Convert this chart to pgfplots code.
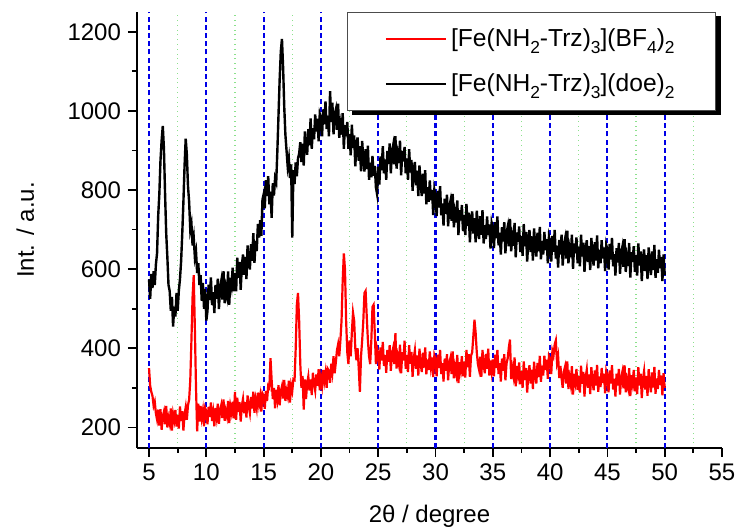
\documentclass[border=0pt]{standalone}
\usepackage{pgfplots}
\pgfplotsset{compat=1.18}
\usepackage{fontspec}
\setmainfont{Liberation Sans}
\definecolor{gridblue}{RGB}{0,0,230}
\definecolor{gridgreen}{RGB}{140,225,140}
\newcommand\sub[1]{\raisebox{-0.55ex}{\fontsize{8.7}{9}\selectfont #1}}
\begin{document}
\begin{tikzpicture}
\begin{axis}[
  name=ax,
  scale only axis, width=292.5pt, height=218pt,
  xmin=3.95, xmax=55, ymin=148, ymax=1250,
  axis x line*=bottom, axis y line*=left,
  axis line style={line width=0.9pt, black},
  tick align=outside,
  xtick={5,10,...,55}, minor xtick={7.5,12.5,...,52.5},
  ytick={200,400,...,1200}, minor ytick={300,500,...,1100},
  major tick length=4.5pt, minor tick length=2.5pt,
  every tick/.style={black, line width=0.9pt},
  xminorgrids=true,
  minor grid style={gridgreen, dotted, line width=0.6pt},
  extra x ticks={5,10,15,20,25,30,35,40,45,50}, extra x tick labels={},
  extra x tick style={grid=major, major tick length=0pt,
     major grid style={gridblue, dash pattern=on 2.5pt off 1.6pt, line width=1.05pt}},
  /pgf/number format/assume math mode=true,
  /pgf/number format/1000 sep={},
  ticklabel style={font=\fontsize{12}{14}\selectfont},
  xlabel={2θ / degree}, ylabel={Int. / a.u.},
  label style={font=\fontsize{12}{14}\selectfont},
  xlabel style={at={(axis description cs:0.5,-0.172)}, anchor=base},
  ylabel style={at={(axis description cs:-0.191,0.5)}, anchor=center},
  legend style={name=leg, at={(axis description cs:0.99,1.0)}, anchor=north east,
     draw=black!70, line width=0.5pt, fill=white,
     font=\fontsize{12.3}{14}\selectfont,
     inner xsep=18.5pt, inner ysep=6pt, row sep=8pt},
  legend cell align=left,
  legend image code/.code={\draw[#1] (0pt,0pt) -- (30pt,0pt);},
  reverse legend,
]
\addplot[black, line width=1.2pt] coordinates {
(5.0,574) (5.1,525) (5.2,588) (5.3,552) (5.4,595) (5.5,560) (5.6,612) (5.7,640) (5.8,735) (5.9,790)
(6.0,875) (6.1,925) (6.2,962) (6.3,905) (6.4,790) (6.5,690) (6.6,630) (6.7,560) (6.8,545) (6.9,495)
(7.0,530) (7.1,455) (7.2,505) (7.3,480) (7.4,540) (7.5,495) (7.6,545) (7.7,575) (7.8,620) (7.9,690)
(8.0,770) (8.1,860) (8.2,930) (8.3,890) (8.4,810) (8.5,770) (8.6,700) (8.7,715) (8.8,660) (8.9,680)
(9.0,630) (9.1,645) (9.2,590) (9.3,615) (9.4,560) (9.5,585) (9.6,520) (9.7,565) (9.8,500) (9.9,550)
(10.0,470) (10.1,494) (10.2,561) (10.3,522) (10.4,579) (10.5,509) (10.6,542) (10.7,489) (10.8,560) (10.9,525)
(11.0,576) (11.1,499) (11.2,553) (11.3,570) (11.4,523) (11.5,595) (11.6,514) (11.7,552) (11.8,534) (11.9,594)
(12.0,510) (12.1,578) (12.2,559) (12.3,604) (12.4,544) (12.5,590) (12.6,544) (12.7,629) (12.8,578) (12.9,618)
(13.0,548) (13.1,609) (13.2,637) (13.3,586) (13.4,631) (13.5,575) (13.6,660) (13.7,621) (13.8,599) (13.9,663)
(14.0,621) (14.1,691) (14.2,616) (14.3,671) (14.4,646) (14.5,714) (14.6,680) (14.7,724) (14.8,684) (14.9,776)
(15.0,789) (15.1,754) (15.2,825) (15.3,785) (15.4,835) (15.5,764) (15.6,796) (15.7,730) (15.8,817) (15.9,786)
(16.0,830) (16.1,820) (16.2,900) (16.3,990) (16.4,1080) (16.5,1150) (16.6,1182) (16.7,1110) (16.8,1010) (16.9,940)
(17.0,900) (17.1,860) (17.2,880) (17.3,830) (17.4,865) (17.5,680) (17.6,850) (17.7,815) (17.8,870) (17.9,835)
(18.0,880) (18.1,892) (18.2,921) (18.3,871) (18.4,917) (18.5,862) (18.6,948) (18.7,910) (18.8,889) (18.9,954)
(19.0,913) (19.1,981) (19.2,904) (19.3,956) (19.4,928) (19.5,991) (19.6,948) (19.7,980) (19.8,923) (19.9,993)
(20.0,984) (20.1,936) (20.2,1004) (20.3,966) (20.4,1024) (20.5,954) (20.6,988) (20.7,936) (20.8,1050) (20.9,972)
(21.0,1021) (21.1,941) (21.2,990) (21.3,1003) (21.4,952) (21.5,1018) (21.6,932) (21.7,964) (21.8,940) (21.9,994)
(22.0,904) (22.1,964) (22.2,936) (22.3,972) (22.4,904) (22.5,942) (22.6,888) (22.7,965) (22.8,906) (22.9,938)
(23.0,860) (23.1,913) (23.2,933) (23.3,874) (23.4,911) (23.5,847) (23.6,924) (23.7,877) (23.8,847) (23.9,903)
(24.0,853) (24.1,912) (24.2,826) (24.3,869) (24.4,832) (24.5,886) (24.6,836) (24.7,861) (24.8,807) (24.9,790)
(25.0,859) (25.1,814) (25.2,885) (25.3,850) (25.4,911) (25.5,842) (25.6,877) (25.7,826) (25.8,899) (25.9,866)
(26.0,918) (26.1,842) (26.2,895) (26.3,912) (26.4,865) (26.5,936) (26.6,854) (26.7,889) (26.8,868) (26.9,925)
(27.0,837) (27.1,899) (27.2,872) (27.3,909) (27.4,842) (27.5,880) (27.6,826) (27.7,903) (27.8,844) (27.9,876)
(28.0,798) (28.1,851) (28.2,871) (28.3,812) (28.4,849) (28.5,785) (28.6,862) (28.7,815) (28.8,785) (28.9,841)
(29.0,791) (29.1,850) (29.2,764) (29.3,807) (29.4,770) (29.5,824) (29.6,774) (29.7,800) (29.8,737) (29.9,801)
(30.0,786) (30.1,734) (30.2,798) (30.3,756) (30.4,810) (30.5,736) (30.6,766) (30.7,710) (30.8,778) (30.9,740)
(31.0,788) (31.1,708) (31.2,758) (31.3,772) (31.4,722) (31.5,790) (31.6,706) (31.7,740) (31.8,718) (31.9,774)
(32.0,686) (32.1,749) (32.2,723) (32.3,762) (32.4,696) (32.5,737) (32.6,686) (32.7,765) (32.8,709) (32.9,743)
(33.0,668) (33.1,724) (33.2,746) (33.3,690) (33.4,729) (33.5,668) (33.6,748) (33.7,703) (33.8,676) (33.9,734)
(34.0,687) (34.1,749) (34.2,665) (34.3,711) (34.4,676) (34.5,733) (34.6,686) (34.7,713) (34.8,652) (34.9,717)
(35.0,704) (35.1,653) (35.2,719) (35.3,678) (35.4,733) (35.5,660) (35.6,692) (35.7,637) (35.8,706) (35.9,670)
(36.0,719) (36.1,640) (36.2,692) (36.3,707) (36.4,658) (36.5,727) (36.6,645) (36.7,680) (36.8,659) (36.9,717)
(37.0,630) (37.1,693) (37.2,669) (37.3,708) (37.4,643) (37.5,684) (37.6,634) (37.7,714) (37.8,658) (37.9,694)
(38.0,619) (38.1,675) (38.2,699) (38.3,643) (38.4,683) (38.5,622) (38.6,703) (38.7,659) (38.8,632) (38.9,692)
(39.0,645) (39.1,707) (39.2,625) (39.3,671) (39.4,637) (39.5,694) (39.6,648) (39.7,676) (39.8,615) (39.9,682)
(40.0,669) (40.1,619) (40.2,684) (40.3,644) (40.4,699) (40.5,627) (40.6,659) (40.7,604) (40.8,674) (40.9,637)
(41.0,687) (41.1,609) (41.2,660) (41.3,676) (41.4,627) (41.5,697) (41.6,615) (41.7,650) (41.8,630) (41.9,687)
(42.0,601) (42.1,665) (42.2,640) (42.3,680) (42.4,615) (42.5,657) (42.6,607) (42.7,687) (42.8,632) (42.9,667)
(43.0,593) (43.1,650) (43.2,673) (43.3,618) (43.4,658) (43.5,598) (43.6,679) (43.7,635) (43.8,609) (43.9,668)
(44.0,622) (44.1,685) (44.2,602) (44.3,649) (44.4,615) (44.5,673) (44.6,627) (44.7,655) (44.8,595) (44.9,661)
(45.0,649) (45.1,599) (45.2,664) (45.3,624) (45.4,679) (45.5,607) (45.6,638) (45.7,584) (45.8,653) (45.9,617)
(46.0,666) (46.1,588) (46.2,639) (46.3,655) (46.4,606) (46.5,676) (46.6,593) (46.7,629) (46.8,608) (46.9,666)
(47.0,579) (47.1,643) (47.2,618) (47.3,658) (47.4,593) (47.5,635) (47.6,584) (47.7,665) (47.8,609) (47.9,645)
(48.0,570) (48.1,627) (48.2,650) (48.3,595) (48.4,635) (48.5,575) (48.6,655) (48.7,612) (48.8,585) (48.9,645)
(49.0,598) (49.1,661) (49.2,578) (49.3,625) (49.4,591) (49.5,649) (49.6,602) (49.7,631) (49.8,570) (49.9,637)
(50.0,585)
};
\addlegendentry{[Fe(NH\sub{2}-Trz)\sub{3}](doe)\sub{2}}
\addplot[red, line width=1.1pt] coordinates {
(5.0,350) (5.1,305) (5.2,290) (5.3,280) (5.4,255) (5.5,265) (5.6,235) (5.7,220) (5.8,245) (5.9,205)
(6.0,246) (6.1,194) (6.2,228) (6.3,240) (6.4,208) (6.5,254) (6.6,200) (6.7,224) (6.8,210) (6.9,248)
(7.0,192) (7.1,234) (7.2,218) (7.3,244) (7.4,202) (7.5,231) (7.6,197) (7.7,253) (7.8,216) (7.9,241)
(8.0,192) (8.1,233) (8.2,251) (8.3,219) (8.4,256) (8.5,270) (8.6,320) (8.7,420) (8.8,530) (8.9,585)
(9.0,450) (9.1,300) (9.2,190) (9.3,260) (9.4,215) (9.5,254) (9.6,224) (9.7,243) (9.8,203) (9.9,249)
(10.0,241) (10.1,208) (10.2,252) (10.3,227) (10.4,263) (10.5,216) (10.6,238) (10.7,203) (10.8,249) (10.9,226)
(11.0,260) (11.1,209) (11.2,243) (11.3,256) (11.4,224) (11.5,271) (11.6,217) (11.7,242) (11.8,228) (11.9,267)
(12.0,211) (12.1,254) (12.2,238) (12.3,265) (12.4,223) (12.5,290) (12.6,219) (12.7,275) (12.8,239) (12.9,264)
(13.0,215) (13.1,255) (13.2,272) (13.3,236) (13.4,264) (13.5,225) (13.6,281) (13.7,253) (13.8,236) (13.9,277)
(14.0,248) (14.1,290) (14.2,237) (14.3,269) (14.4,249) (14.5,288) (14.6,259) (14.7,279) (14.8,240) (14.9,286)
(15.0,280) (15.1,247) (15.2,292) (15.3,267) (15.4,305) (15.5,300) (15.6,375) (15.7,320) (15.8,272) (15.9,300)
(16.0,248) (16.1,295) (16.2,272) (16.3,307) (16.4,256) (16.5,291) (16.6,304) (16.7,273) (16.8,320) (16.9,267)
(17.0,292) (17.1,279) (17.2,318) (17.3,263) (17.4,306) (17.5,292) (17.6,322) (17.7,320) (17.8,400) (17.9,510)
(18.0,540) (18.1,470) (18.2,360) (18.3,300) (18.4,330) (18.5,245) (18.6,321) (18.7,272) (18.8,312) (18.9,329)
(19.0,293) (19.1,321) (19.2,282) (19.3,338) (19.4,310) (19.5,293) (19.6,334) (19.7,305) (19.8,347) (19.9,294)
(20.0,326) (20.1,306) (20.2,345) (20.3,317) (20.4,338) (20.5,300) (20.6,348) (20.7,343) (20.8,313) (20.9,361)
(21.0,339) (21.1,380) (21.2,337) (21.3,364) (21.4,395) (21.5,410) (21.6,380) (21.7,420) (21.8,470) (21.9,570)
(22.0,640) (22.1,600) (22.2,470) (22.3,390) (22.4,360) (22.5,420) (22.6,380) (22.7,440) (22.8,490) (22.9,470)
(23.0,400) (23.1,370) (23.2,400) (23.3,350) (23.4,290) (23.5,380) (23.6,420) (23.7,470) (23.8,540) (23.9,545)
(24.0,480) (24.1,420) (24.2,380) (24.3,360) (24.4,420) (24.5,505) (24.6,510) (24.7,440) (24.8,360) (24.9,400)
(25.0,387) (25.1,346) (25.2,402) (25.3,369) (25.4,416) (25.5,356) (25.6,383) (25.7,338) (25.8,396) (25.9,366)
(26.0,408) (26.1,343) (26.2,386) (26.3,400) (26.4,360) (26.5,438) (26.6,349) (26.7,379) (26.8,361) (26.9,409)
(27.0,337) (27.1,390) (27.2,369) (27.3,419) (27.4,348) (27.5,383) (27.6,340) (27.7,408) (27.8,361) (27.9,391)
(28.0,328) (28.1,375) (28.2,395) (28.3,348) (28.4,382) (28.5,331) (28.6,399) (28.7,362) (28.8,340) (28.9,389)
(29.0,351) (29.1,402) (29.2,334) (29.3,372) (29.4,345) (29.5,392) (29.6,354) (29.7,377) (29.8,327) (29.9,382)
(30.0,372) (30.1,329) (30.2,384) (30.3,350) (30.4,396) (30.5,335) (30.6,362) (30.7,316) (30.8,374) (30.9,343)
(31.0,385) (31.1,319) (31.2,362) (31.3,375) (31.4,335) (31.5,392) (31.6,324) (31.7,353) (31.8,336) (31.9,383)
(32.0,312) (32.1,365) (32.2,345) (32.3,380) (32.4,329) (32.5,366) (32.6,326) (32.7,396) (32.8,352) (32.9,385)
(33.0,328) (33.1,381) (33.2,390) (33.3,430) (33.4,472) (33.5,440) (33.6,390) (33.7,360) (33.8,346) (33.9,379)
(34.0,328) (34.1,396) (34.2,359) (34.3,337) (34.4,386) (34.5,348) (34.6,399) (34.7,331) (34.8,369) (34.9,342)
(35.0,372) (35.1,329) (35.2,384) (35.3,350) (35.4,396) (35.5,335) (35.6,362) (35.7,316) (35.8,374) (35.9,343)
(36.0,385) (36.1,319) (36.2,362) (36.3,375) (36.4,402) (36.5,422) (36.6,322) (36.7,350) (36.8,331) (36.9,377)
(37.0,304) (37.1,355) (37.2,333) (37.3,364) (37.4,309) (37.5,343) (37.6,300) (37.7,367) (37.8,320) (37.9,350)
(38.0,288) (38.1,336) (38.2,357) (38.3,311) (38.4,346) (38.5,297) (38.6,366) (38.7,331) (38.8,311) (38.9,363)
(39.0,327) (39.1,381) (39.2,315) (39.3,356) (39.4,331) (39.5,381) (39.6,345) (39.7,371) (39.8,323) (39.9,381)
(40.0,374) (40.1,335) (40.2,393) (40.3,382) (40.4,410) (40.5,420) (40.6,365) (40.7,380) (40.8,325) (40.9,355)
(41.0,325) (41.1,300) (41.2,341) (41.3,353) (41.4,311) (41.5,367) (41.6,297) (41.7,326) (41.8,308) (41.9,355)
(42.0,283) (42.1,335) (42.2,315) (42.3,348) (42.4,295) (42.5,330) (42.6,288) (42.7,356) (42.8,310) (42.9,340)
(43.0,278) (43.1,326) (43.2,346) (43.3,300) (43.4,334) (43.5,284) (43.6,352) (43.7,316) (43.8,294) (43.9,344)
(44.0,306) (44.1,358) (44.2,290) (44.3,329) (44.4,302) (44.5,350) (44.6,312) (44.7,336) (44.8,286) (44.9,342)
(45.0,331) (45.1,289) (45.2,344) (45.3,311) (45.4,357) (45.5,296) (45.6,323) (45.7,278) (45.8,336) (45.9,306)
(46.0,348) (46.1,283) (46.2,326) (46.3,340) (46.4,299) (46.5,357) (46.6,289) (46.7,319) (46.8,302) (46.9,350)
(47.0,279) (47.1,332) (47.2,312) (47.3,345) (47.4,291) (47.5,326) (47.6,284) (47.7,352) (47.8,306) (47.9,336)
(48.0,274) (48.1,322) (48.2,342) (48.3,296) (48.4,330) (48.5,280) (48.6,347) (48.7,311) (48.8,289) (48.9,339)
(49.0,301) (49.1,353) (49.2,285) (49.3,324) (49.4,297) (49.5,345) (49.6,307) (49.7,331) (49.8,281) (49.9,337)
(50.0,300)
};
\addlegendentry{[Fe(NH\sub{2}-Trz)\sub{3}](BF\sub{4})\sub{2}}
\end{axis}
\fill[black] ([xshift=2.2pt,yshift=-2.2pt]leg.south west) rectangle ([xshift=2.2pt]leg.south east);
\fill[black] ([yshift=-2.2pt]leg.north east) rectangle ([xshift=2.2pt,yshift=-2.2pt]leg.south east);
\pgfresetboundingbox
\path[use as bounding box] ([xshift=-68.5pt,yshift=-40.5pt]ax.south west) rectangle ([xshift=7pt,yshift=6pt]ax.north east);
\end{tikzpicture}
\end{document}
